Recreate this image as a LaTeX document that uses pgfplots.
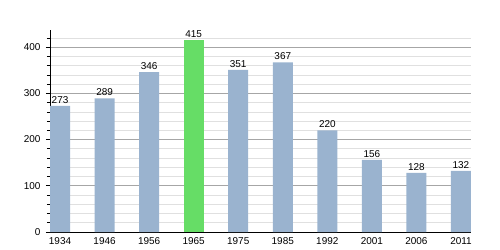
\documentclass[border=0pt]{standalone}
\usepackage{pgfplots}
\pgfplotsset{compat=1.18}
\usepackage{fontspec}
\setmainfont{Liberation Sans}
\definecolor{barblue}{RGB}{154,179,207}
\definecolor{bargreen}{RGB}{102,221,102}
\begin{document}
\begin{tikzpicture}
\useasboundingbox (-50bp,-18bp) rectangle (450bp,232bp);
\begin{axis}[
  at={(0,0)}, anchor=south west,
  scale only axis, width=421bp, height=202bp,
  xmin=-0.225, xmax=9.225, ymin=0, ymax=437,
  axis lines*=left,
  axis line style={black, line width=0.8pt, -},
  xtick={0,...,9},
  xticklabels={1934,1946,1956,1965,1975,1985,1992,2001,2006,2011},
  x tick style={draw=none},
  ytick={0,100,200,300,400},
  minor ytick={20,40,60,80,120,140,160,180,220,240,260,280,320,340,360,380,420},
  ymajorgrids, yminorgrids,
  major grid style={color=black!35, line width=0.6pt},
  minor grid style={color=black!12, line width=0.6pt},
  y tick style={black, line width=0.6pt},
  major tick length=4bp, minor tick length=3bp,
  tick align=outside,
  ticklabel style={font=\fontsize{10}{12}\selectfont},
  /pgf/number format/assume math mode=true,
  xticklabel style={yshift=1.5bp},
  yticklabel style={xshift=-2bp},
  clip=false,
]
\addplot[ybar, bar width=20bp, fill=barblue, draw=none,
  nodes near coords, every node near coord/.append style={font=\fontsize{10}{12}\selectfont, black, yshift=-1bp}]
  coordinates {(0,273) (1,289) (2,346) (4,351) (5,367) (6,220) (7,156) (8,128) (9,132)};
\addplot[ybar, bar width=20bp, fill=bargreen, draw=none,
  nodes near coords, every node near coord/.append style={font=\fontsize{10}{12}\selectfont, black, yshift=-1bp}]
  coordinates {(3,415)};
\end{axis}
\end{tikzpicture}
\end{document}
